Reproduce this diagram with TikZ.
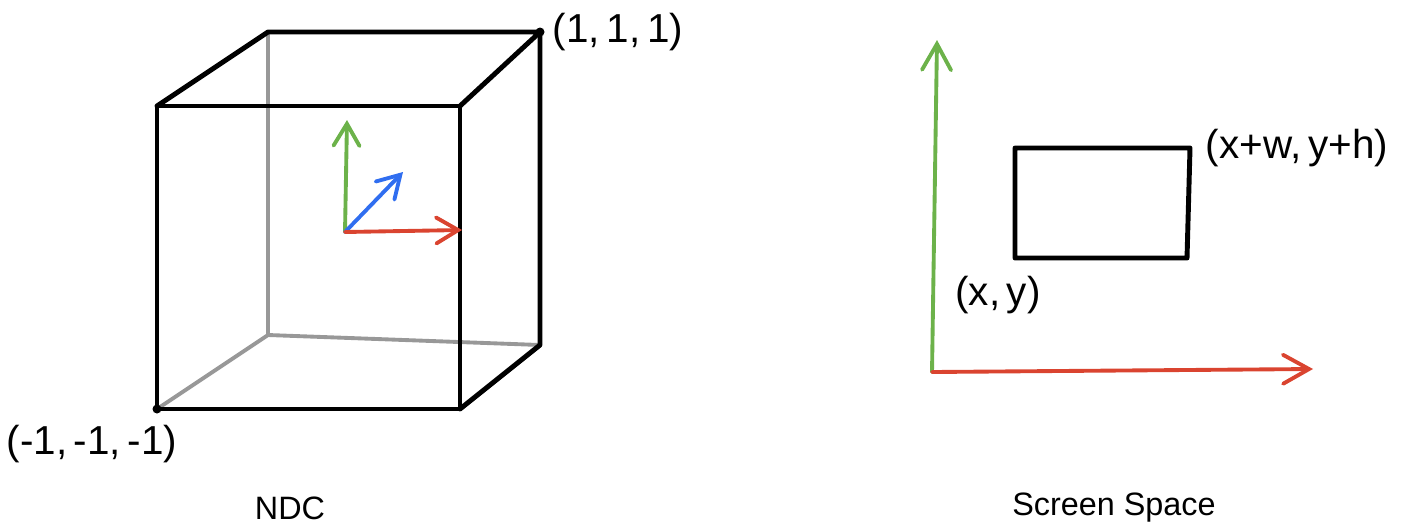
\documentclass[tikz,border=0pt]{standalone}
\usepackage{fontspec}
\setmainfont{Liberation Sans}
\usetikzlibrary{arrows.meta}

\definecolor{axisgreen}{RGB}{108,178,74}
\definecolor{axisblue}{RGB}{48,110,240}
\definecolor{axisred}{RGB}{218,68,48}
\definecolor{backgray}{RGB}{152,152,152}

\tikzset{
	cubeline/.style={line width=1.4pt,line cap=round,line join=round},
	hiddenline/.style={line width=1.1pt,draw=backgray,line cap=round},
	axisarrow/.style={line width=1.1pt,line cap=round,-{Straight Barb[length=0.22cm,width=0.26cm,line cap=round]}},
	handlabel/.style={font=\fontsize{11.5}{13}\selectfont},
	caption/.style={font=\fontsize{9.2}{11}\selectfont}
}

\begin{document}
\begin{tikzpicture}[x=0.01cm,y=-0.01cm]
	
	\useasboundingbox (0,0) rectangle (1404,530);
	
	% cube corners
	\coordinate (fbl) at (157,409);
	\coordinate (fbr) at (460,409);
	\coordinate (ftl) at (157,106);
	\coordinate (ftr) at (460,106);
	\coordinate (bbl) at (268,335);
	\coordinate (bbr) at (540,345);
	\coordinate (btl) at (268,32);
	\coordinate (btr) at (540,32);
	
	\draw[hiddenline] (fbl) -- (bbl) -- (btl);
	\draw[hiddenline] (bbl) -- (bbr);
	
	\draw[cubeline] (fbl) rectangle (ftr);
	\draw[cubeline] (ftl) -- (btl) -- (btr) -- (ftr);
	\draw[cubeline] (btr) -- (bbr) -- (fbr);
	
	\fill (fbl) circle (4.5);
	\fill (btr) circle (4.5);
	
	\node[handlabel] (maxpt) at (618,32) {(1,\,1,\,1)};
	\node[handlabel] (minpt) at (92,444) {(-1,\,-1,\,-1)};
	
	% NDC axes
	\coordinate (o) at (345,232);
	\coordinate (xend) at (462,230);
	\coordinate (yend) at (347,120);
	\coordinate (zend) at (403,172);
	
	\draw[axisarrow,axisgreen] (o) -- (yend);
	\draw[axisarrow,axisblue] (o) -- (zend);
	\draw[axisarrow,axisred] (o) -- (xend);
	
	\node[caption] (ndc) at (290,508) {NDC};
	
	% screen space
	\coordinate (so) at (932,372);
	\coordinate (sx) at (1313,369);
	\coordinate (sy) at (937,40);
	
	\draw[axisarrow,axisgreen,-{Straight Barb[length=0.26cm,width=0.29cm,line cap=round]}] (so) -- (sy);
	\draw[axisarrow,axisred,-{Straight Barb[length=0.26cm,width=0.29cm,line cap=round]}] (so) -- (sx);
	
	\coordinate (rbl) at (1015,258);
	\coordinate (rbr) at (1187,258);
	\coordinate (rtr) at (1190,148);
	\coordinate (rtl) at (1015,148);
	\draw[cubeline] (rbl) -- (rbr) -- (rtr) -- (rtl) -- cycle;
	
	\node[handlabel] (corner) at (1297,148) {(x+w,\,y+h)};
	\node[handlabel] (origin) at (998,295) {(x,\,y)};
	
	\node[caption] (screen) at (1114,508) {Screen Space};
	
\end{tikzpicture}
\end{document}
